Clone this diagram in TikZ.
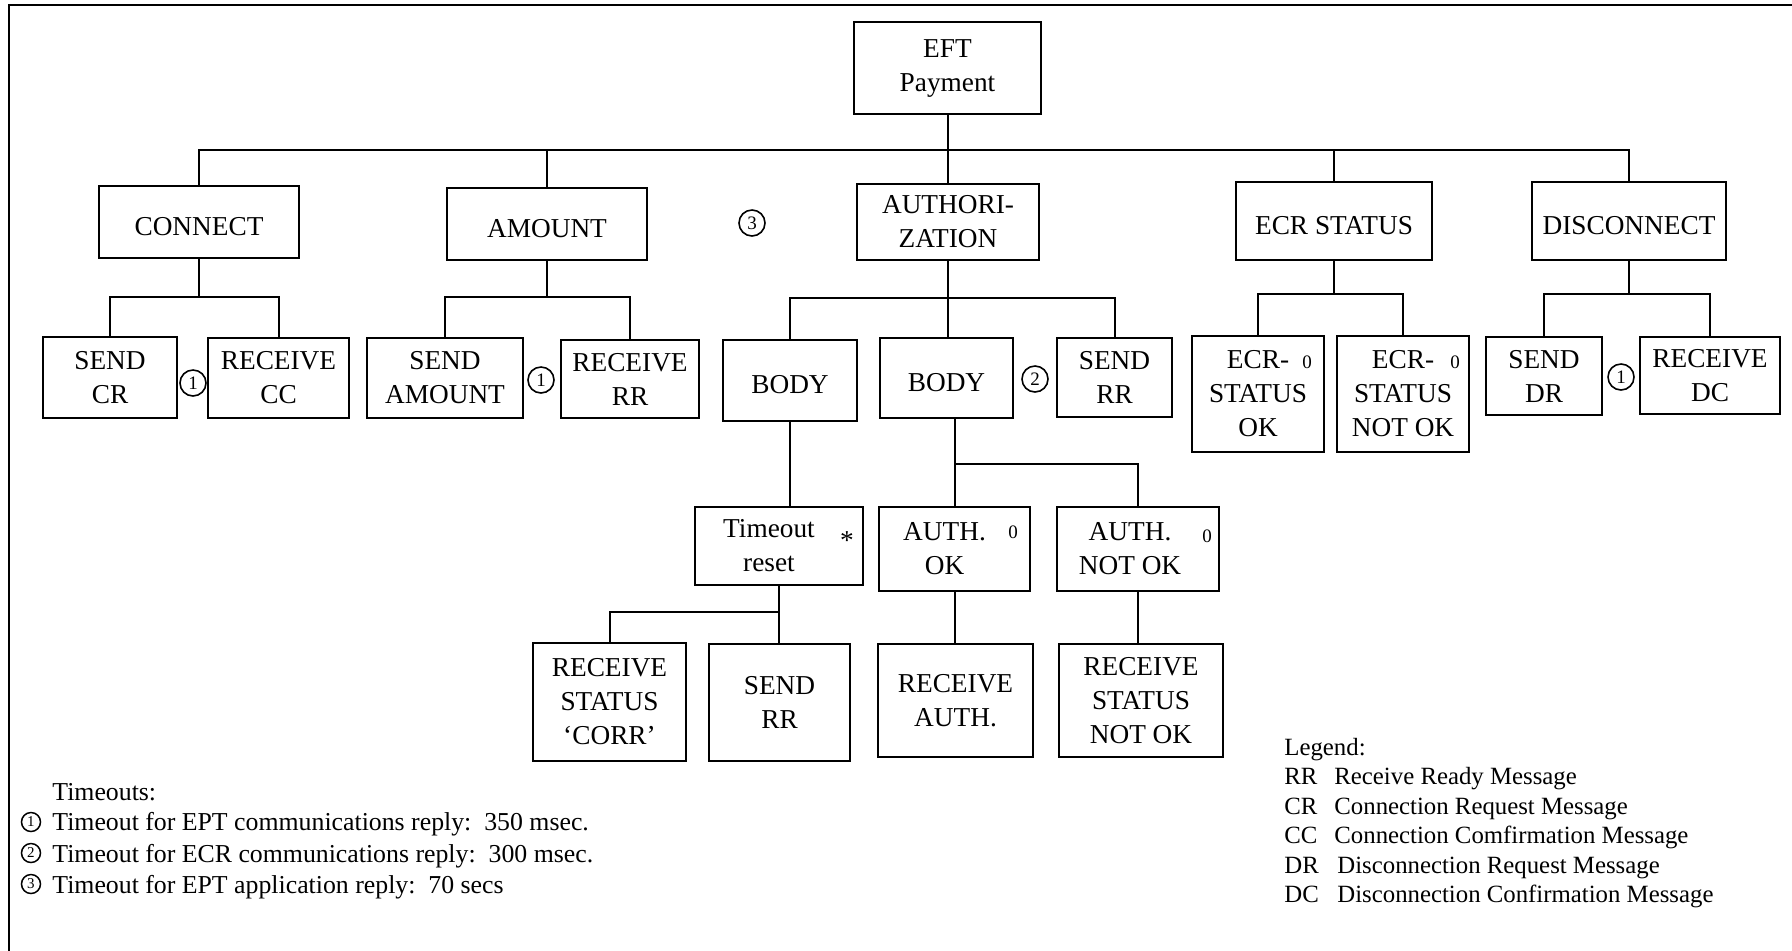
\documentclass[tikz,border=0pt]{standalone}
\usepackage{fontspec}
\setmainfont{Liberation Serif}
\newcommand\boxfont{\fontsize{13.65}{17}\selectfont}
\newcommand\legfont{\fontsize{12.9}{15}\selectfont}
\newcommand\abbfont{\fontsize{12.4}{15}\selectfont}
% box given by its corners (in px units of the picture)
\newcommand\bx[6]{%
  \node[box, minimum width={(#4-#2)*0.5pt}, minimum height={(#5-#3)*0.5pt}]
    (#1) at ({(#2+#4)/2},{(#3+#5)/2}) {#6};}
\begin{document}
\begin{tikzpicture}[x=0.5pt,y=-0.5pt,
  box/.style={draw, line width=1pt, inner sep=0pt, align=center, font=\boxfont,
              execute at begin node={\rule{0pt}{13.5pt}}},
  wire/.style={line width=1pt},
  tmark/.style={draw, circle, line width=0.8pt, inner sep=0pt, minimum size=13pt,
                font=\fontsize{9.5}{9.5}\selectfont},
  lmark/.style={draw, circle, line width=0.75pt, inner sep=0pt, minimum size=9.5pt,
                font=\fontsize{7.5}{7.5}\selectfont},
  omark/.style={anchor=base, inner sep=0pt, font=\fontsize{9.5}{9.5}\selectfont},
  legtext/.style={anchor=base west, inner sep=0pt, font=\legfont},
  abbtext/.style={anchor=base west, inner sep=0pt, font=\abbfont}]
\useasboundingbox (0,0) rectangle (1792,950);

% frame
\draw[line width=1pt] (9,960) -- (9,5) -- (1800,5);

% boxes
\bx{eft}{854}{22}{1041}{114}{EFT\\Payment}
\bx{connect}{99}{186}{299}{258}{CONNECT}
\bx{amount}{447}{188}{647}{260}{AMOUNT}
\bx{auth}{857}{184}{1039}{260}{AUTHORI-\\ZATION}
\bx{ecrst}{1236}{182}{1432}{260}{ECR STATUS}
\bx{disc}{1532}{182}{1726}{260}{DISCONNECT}

\bx{sendcr}{43}{337}{177}{418}{SEND\\CR}
\bx{recvcc}{208}{338}{349}{418}{RECEIVE\\CC}
\bx{sendamt}{367}{338}{523}{418}{SEND\\AMOUNT}
\bx{recvrr}{561}{340}{699}{418}{RECEIVE\\RR}
\bx{body1}{723}{340}{857}{421}{BODY}
\bx{body2}{880}{338}{1013}{418}{BODY}
\bx{sendrr}{1057}{338}{1172}{417}{SEND\\RR}
\bx{ecrok}{1192}{336}{1324}{452}{ECR-\\STATUS\\OK}
\bx{ecrnok}{1337}{336}{1469}{452}{ECR-\\STATUS\\NOT OK}
\bx{senddr}{1486}{337}{1602}{415}{SEND\\DR}
\bx{recvdc}{1640}{337}{1780}{414}{RECEIVE\\DC}

\bx{tmo}{695}{507}{863}{585}{Timeout\hspace*{10pt}\\reset\hspace*{10pt}}
\bx{authok}{879}{507}{1030}{591}{AUTH.\hspace*{10pt}\\OK\hspace*{10pt}}
\bx{authnok}{1057}{507}{1219}{591}{AUTH.\hspace*{8pt}\\NOT OK\hspace*{8pt}}

\bx{recvcorr}{533}{643}{686}{761}{RECEIVE\\STATUS\\‘CORR’}
\bx{sendrr2}{709}{644}{850}{761}{SEND\\RR}
\bx{recvauth}{878}{644}{1033}{757}{RECEIVE\\AUTH.}
\bx{recvnok}{1059}{644}{1223}{757}{RECEIVE\\STATUS\\NOT OK}

% small marks inside boxes
\node[anchor=base, inner sep=0pt, font=\boxfont] (star) at (847,549) {*};
\node[omark] (o1) at (1307,368) {0};
\node[omark] (o2) at (1455,368) {0};
\node[omark] (o3) at (1013,538) {0};
\node[omark] (o4) at (1207,542) {0};

% timeout markers
\node[tmark] (t3) at (752,223) {3};
\node[tmark] (t1a) at (193,383) {1};
\node[tmark] (t1b) at (541,380) {1};
\node[tmark] (t2) at (1035,379) {2};
\node[tmark] (t1c) at (1621,377) {1};

% top level connectors
\coordinate (bus) at (0,150);
\draw[wire] (connect.north) -- (connect.north |- bus) -| (disc.north);
\draw[wire] (amount.north) -- (amount.north |- bus);
\draw[wire] (ecrst.north) -- (ecrst.north |- bus);
\draw[wire] (eft.south) -- (eft.south |- auth.north);

% CONNECT
\coordinate (cb) at (0,297);
\draw[wire] (connect.south) -- (connect.south |- cb);
\draw[wire] (sendcr.north) |- (cb -| recvcc.north) -- (recvcc.north);
% AMOUNT
\draw[wire] (amount.south) -- (amount.south |- cb);
\draw[wire] (sendamt.north) |- (cb -| recvrr.north) -- (recvrr.north);
% AUTHORIZATION
\coordinate (ab) at (0,298);
\draw[wire] (auth.south) -- (auth.south |- body2.north);
\draw[wire] (body1.north) |- (ab -| sendrr.north) -- (sendrr.north);
% ECR STATUS
\coordinate (eb) at (0,294);
\draw[wire] (ecrst.south) -- (ecrst.south |- eb);
\draw[wire] (ecrok.north) |- (eb -| ecrnok.north) -- (ecrnok.north);
% DISCONNECT
\draw[wire] (disc.south) -- (disc.south |- eb);
\draw[wire] (senddr.north) |- (eb -| recvdc.north) -- (recvdc.north);
% BODY (left) -> Timeout reset
\draw[wire] (body1.south) -- (body1.south |- tmo.north);
\coordinate (tb) at (0,612);
\draw[wire] (tmo.south) -- (tmo.south |- sendrr2.north);
\draw[wire] (recvcorr.north) |- (tb -| tmo.south);
% BODY (middle) -> AUTH.
\coordinate (bb) at (0,464);
\draw[wire] (authok.north) -- (authok.north |- body2.south);
\draw[wire] (bb -| authok.north) -| (authnok.north);
\draw[wire] (authok.south) -- (authok.south |- recvauth.north);
\draw[wire] (authnok.south) -- (authnok.south |- recvnok.north);

% timeouts legend
\node[legtext] (tl0) at (52,800) {Timeouts:};
\node[lmark] (l1) at (31,822) {1};
\node[lmark] (l2) at (31,853) {2};
\node[lmark] (l3) at (31,884) {3};
\node[legtext] (tl1) at (52,830) {Timeout for EPT communications reply:\ \ 350 msec.};
\node[legtext] (tl2) at (52,862) {Timeout for ECR communications reply:\ \ 300 msec.};
\node[legtext] (tl3) at (52,893) {Timeout for EPT application reply:\ \ 70 secs};

% abbreviations legend
\node[abbtext] (lg) at (1284,755) {Legend:};
\node[abbtext] (a1) at (1284,784.5) {RR};
\node[abbtext] (a2) at (1284,814) {CR};
\node[abbtext] (a3) at (1284,843.5) {CC};
\node[abbtext] (a4) at (1284,873) {DR};
\node[abbtext] (a5) at (1284,902.5) {DC};
\node[abbtext] (d1) at (1334,784.5) {Receive Ready Message};
\node[abbtext] (d2) at (1334,814) {Connection Request Message};
\node[abbtext] (d3) at (1334,843.5) {Connection Comfirmation Message};
\node[abbtext] (d4) at (1337,873) {Disconnection Request Message};
\node[abbtext] (d5) at (1337,902.5) {Disconnection Confirmation Message};
\end{tikzpicture}
\end{document}
